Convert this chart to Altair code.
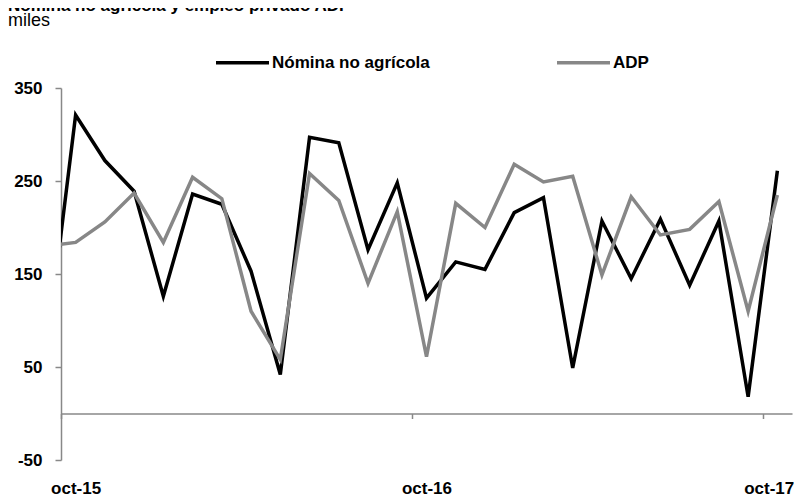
import altair as alt
import pandas as pd

# ---- data ----
months = ["sep-15", "oct-15", "nov-15", "dic-15", "ene-16", "feb-16", "mar-16", "abr-16",
          "may-16", "jun-16", "jul-16", "ago-16", "sep-16", "oct-16", "nov-16", "dic-16",
          "ene-17", "feb-17", "mar-17", "abr-17", "may-17", "jun-17", "jul-17", "ago-17",
          "sep-17", "oct-17"]
nomina = [65, 321, 272, 239, 126, 236, 225, 153, 42, 297, 291, 176, 248, 124, 163, 155,
          216, 232, 49, 207, 145, 209, 138, 207, 18, 261]
adp = [180, 184, 206, 237, 184, 254, 231, 110, 58, 258, 229, 140, 217, 61, 226, 200,
       268, 249, 255, 149, 233, 192, 198, 228, 110, 235]
series = ["Nómina no agrícola", "ADP"]
tick_labels = ["oct-15", "oct-16", "oct-17"]
y_ticks = [-50, 50, 150, 250, 350]
title_text = "Nómina no agrícola y empleo privado ADP"
subtitle_text = "miles"

rows = []
for i, m in enumerate(months):
    rows.append({"mes": m, "idx": i - 1, "serie": series[0], "valor": nomina[i]})
    rows.append({"mes": m, "idx": i - 1, "serie": series[1], "valor": adp[i]})
df = pd.DataFrame(rows)

FONT = "Liberation Sans"
AX = "#888888"

tick_pos = [-0.5, 11.5, 23.5]
label_expr = (f"datum.value < 0 ? '{tick_labels[0]}' : "
              f"(datum.value < 12 ? '{tick_labels[1]}' : '{tick_labels[2]}')")
y_label_expr = "datum.value < 0 ? '-' + abs(datum.value) : '' + datum.value"

lines = alt.Chart(df).mark_line(strokeWidth=3.5, clip=True).encode(
    x=alt.X("idx:Q",
            scale=alt.Scale(domain=[-0.5, 24.5], nice=False, zero=False),
            axis=alt.Axis(values=tick_pos, labelExpr=label_expr, offset=-46.5,
                          domainColor=AX, domainWidth=1.5, tickColor=AX, tickWidth=1.5,
                          tickSize=5,
                          labelAlign={"condition": {"test": "datum.value > 20",
                                                    "value": "right"},
                                      "value": "center"},
                          labelOffset={"condition": {"test": "datum.value > 20",
                                                     "value": 31},
                                       "value": 14.6},
                          labelPadding=62,
                          labelFont=FONT, labelFontSize=17, labelFontWeight="bold",
                          labelColor="#000000", grid=False, title=None,
                          labelFlush=False, labelOverlap=False)),
    y=alt.Y("valor:Q",
            scale=alt.Scale(domain=[-50, 350], nice=False, zero=False),
            axis=alt.Axis(values=y_ticks, labelExpr=y_label_expr,
                          domainColor=AX, domainWidth=1.5,
                          tickColor=AX, tickWidth=1.5, tickSize=6, labelPadding=13,
                          labelFont=FONT, labelFontSize=17, labelFontWeight="bold",
                          labelColor="#000000", grid=False, title=None)),
    color=alt.Color("serie:N",
                    scale=alt.Scale(domain=series, range=["#000000", "#878787"]),
                    legend=alt.Legend(orient="none", legendX=153, legendY=-54,
                                      direction="horizontal", title=None,
                                      symbolType="stroke", symbolSize=2809,
                                      symbolStrokeWidth=3.5, labelOffset=1,
                                      columnPadding=120, labelFont=FONT,
                                      labelFontSize=17, labelFontWeight="bold",
                                      labelColor="#000000")),
)

title_df = pd.DataFrame({"t": [title_text]})
sub_df = pd.DataFrame({"t": [subtitle_text]})

title_mark = alt.Chart(title_df).mark_text(
    align="left", baseline="alphabetic", font=FONT, fontSize=17, fontWeight="bold",
    color="#000000"
).encode(x=alt.value(-53), y=alt.value(-77), text="t:N")

sub_mark = alt.Chart(sub_df).mark_text(
    align="left", baseline="alphabetic", font=FONT, fontSize=18, color="#000000"
).encode(x=alt.value(-53), y=alt.value(-62), text="t:N")

chart = alt.layer(lines, title_mark, sub_mark).properties(
    width=731, height=372,
    autosize=alt.AutoSizeParams(type="none"),
    padding={"left": 53, "top": 80, "right": 2, "bottom": 38},
).configure_view(stroke=None)

chart.save("out.html", embed_options={"renderer": "svg", "actions": False})
